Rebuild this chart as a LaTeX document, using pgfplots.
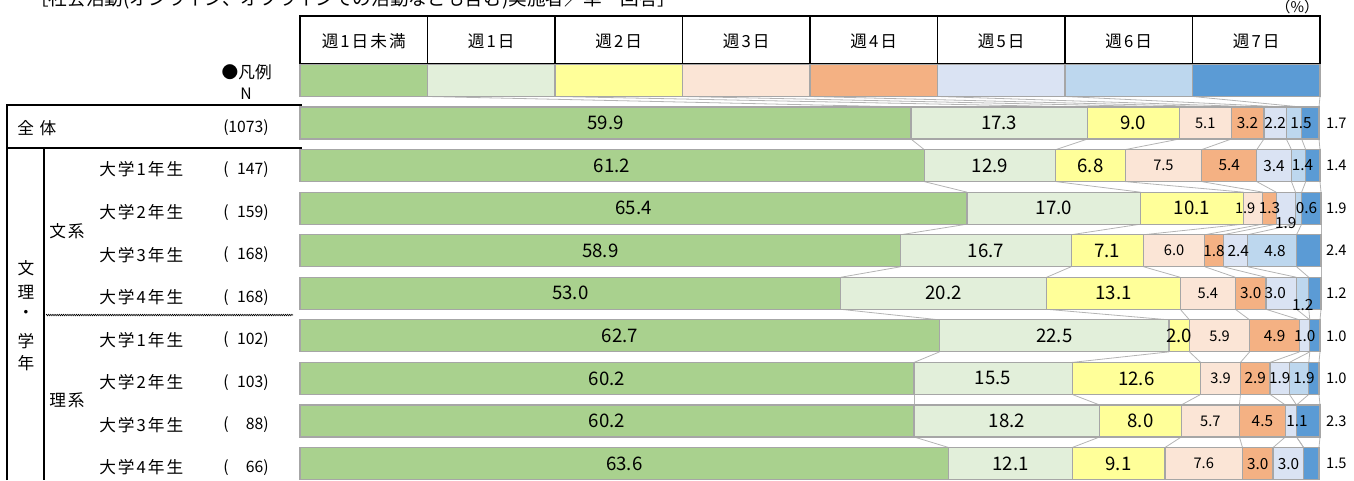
\documentclass[border=0pt]{standalone}
\usepackage{fontspec}
\setmainfont{Noto Sans CJK JP}
\newfontfamily\jpw[LetterSpace=12]{Noto Sans CJK JP}
\usepackage{pgfplots}
\usepackage{pgfplotstable}
\pgfplotsset{compat=1.18}
\usetikzlibrary{decorations.pathmorphing}

\definecolor{colA}{HTML}{A9D18E}
\definecolor{colB}{HTML}{E2EFDA}
\definecolor{colC}{HTML}{FFFF99}
\definecolor{colD}{HTML}{FBE5D6}
\definecolor{colE}{HTML}{F4B183}
\definecolor{colF}{HTML}{DAE3F3}
\definecolor{colG}{HTML}{BDD7EE}
\definecolor{colH}{HTML}{5B9BD5}
\definecolor{bord}{HTML}{A6A6A6}
\definecolor{conn}{HTML}{B4B4B4}

\newcommand\bigf{\fontsize{14}{14}\selectfont}
\newcommand\medf{\fontsize{11.5}{12}\selectfont}
\newcommand\smf{\fontsize{11}{12}\selectfont}
\newcommand\lab{\jpw\fontsize{12.5}{13}\selectfont}
\newcommand\nf{\fontsize{11.8}{12}\selectfont}
\newcommand\nn[1]{(\makebox[2.2em][r]{#1})}

% r = row (-1 = legend row), a..h = shares (%), dx/dy = label offsets (px)
\pgfplotstableread{
r  a    b    c    d   e   f   g   h   dxd dxf dyf dxg dyg
-1 12.5 12.5 12.5 12.5 12.5 12.5 12.5 12.5 0 0 0 0 0
0  59.9 17.3 9.0  5.1 3.2 2.2 1.5 1.7 0 0 0 7 0
1  61.2 12.9 6.8  7.5 5.4 3.4 1.4 1.4 0 0 0 4 0
2  65.4 17.0 10.1 1.9 1.3 1.9 0.6 1.9 -8 0 15 8 0
3  58.9 16.7 7.1  6.0 1.8 2.4 4.8 2.4 0 3 0 3 0
4  53.0 20.2 13.1 5.4 3.0 3.0 1.2 1.2 0 -6 0 0 12
5  62.7 22.5 2.0  5.9 4.9 1.0 0   1.0 0 0 0 0 0
6  60.2 15.5 12.6 3.9 2.9 1.9 1.9 1.0 0 0 0 5 0
7  60.2 18.2 8.0  5.7 4.5 1.1 0   2.3 0 6 0 0 0
8  63.6 12.1 9.1  7.6 3.0 3.0 0   1.5 0 0 0 0 0
}\T

\pgfplotstablecreatecol[create col/expr={\thisrow{a}}]{k1}\T
\pgfplotstablecreatecol[create col/expr={\thisrow{k1}+\thisrow{b}}]{k2}\T
\pgfplotstablecreatecol[create col/expr={\thisrow{k2}+\thisrow{c}}]{k3}\T
\pgfplotstablecreatecol[create col/expr={\thisrow{k3}+\thisrow{d}}]{k4}\T
\pgfplotstablecreatecol[create col/expr={\thisrow{k4}+\thisrow{e}}]{k5}\T
\pgfplotstablecreatecol[create col/expr={\thisrow{k5}+\thisrow{f}}]{k6}\T
\pgfplotstablecreatecol[create col/expr={\thisrow{k6}+\thisrow{g}}]{k7}\T
\pgfplotstablecreatecol[create col/expr={\thisrow{k7}+\thisrow{h}}]{k8}\T
\pgfplotstablecreatecol[create col/expr={\prevrow{k1}-\thisrow{k1}}]{u1}\T
\pgfplotstablecreatecol[create col/expr={\prevrow{k2}-\thisrow{k2}}]{u2}\T
\pgfplotstablecreatecol[create col/expr={\prevrow{k3}-\thisrow{k3}}]{u3}\T
\pgfplotstablecreatecol[create col/expr={\prevrow{k4}-\thisrow{k4}}]{u4}\T
\pgfplotstablecreatecol[create col/expr={\prevrow{k5}-\thisrow{k5}}]{u5}\T
\pgfplotstablecreatecol[create col/expr={\prevrow{k6}-\thisrow{k6}}]{u6}\T
\pgfplotstablecreatecol[create col/expr={\prevrow{k7}-\thisrow{k7}}]{u7}\T
\pgfplotstablecreatecol[create col/expr={\prevrow{k8}-\thisrow{k8}}]{u8}\T

\pgfplotsset{
  base/.style={at={(225pt,-44.4pt)}, anchor=north west, scale only axis,
    width=765pt, height=319.2pt, xmin=0, xmax=100, ymin=-1.5, ymax=8.5,
    y dir=reverse, hide axis, clip=false, enlargelimits=false},
  labp/.style={draw=none, mark=none, nodes near coords, point meta=explicit symbolic,
    every node near coord/.style={anchor=center, inner sep=0pt, font=#1, text=black},
    skip coords between index={0}{1}},
  seg/.style={fill=#1, draw=bord, line width=0.9pt},
}

\begin{document}
\begin{tikzpicture}
\path[use as bounding box] (0,0) rectangle (1015.5pt,-360pt);
\clip (0,0) rectangle (1015.5pt,-360pt);
\begin{scope}[x=0.75pt,y=-0.75pt]
  % title (cut at the top, as in the reference)
  \node[anchor=base west, inner sep=0pt, font=\fontsize{14}{14}\selectfont] at (30,5.5)
    {［社会活動(オンライン、オフラインでの活動なども含む)実施者／単一回答］};
  \node[anchor=east, inner sep=0pt, font=\fontsize{11}{11}\selectfont] at (1319,7) {（\%）};
  % header
  \draw[line width=1.2pt] (300,15.7) rectangle (1320,64);
  \foreach \i in {1,...,7} \draw[line width=1.2pt] ({300+127.5*\i},15.7) -- ({300+127.5*\i},64);
  \foreach \t [count=\i from 0] in {週1日未満,週1日,週2日,週3日,週4日,週5日,週6日,週7日}
    \node[font=\lab, inner sep=0pt] at ({300+127.5*(\i+0.5)},41) {\t};
  % legend captions
  \node[anchor=east, inner sep=0pt, font=\fontsize{12.5}{13}\selectfont] at (272,72) {●凡例};
  \node[inner sep=0pt, font=\nf] at (246,94) {N};
  % left table
  \draw[line width=1.4pt] (7,480) -- (7,105) -- (302,105);
  \draw[line width=1.4pt] (7,148) -- (302,148);
  \draw[line width=1.4pt] (44,148) -- (44,480);
  \draw[line width=0.45pt, decorate, decoration={zigzag, amplitude=0.55pt, segment length=1.6pt}] (46,315) -- (293,315);
  \node[anchor=west, inner sep=0pt, font=\lab] at (17,128) {全 体};
  \node[anchor=east, inner sep=0pt, font=\nf] at (269,128) {\nn{1073}};
  \foreach \g/\n [count=\i] in {1/147,2/159,3/168,4/168,1/102,2/103,3/88,4/66} {
    \node[anchor=west, inner sep=0pt, font=\lab] at (99,{123+42.56*\i+4}) {大学\g 年生};
    \node[anchor=east, inner sep=0pt, font=\nf] at (269,{123+42.56*\i+4}) {\nn{\n}};
  }
  \node[anchor=west, inner sep=0pt, font=\lab] at (49,231) {文系};
  \node[anchor=west, inner sep=0pt, font=\lab] at (49,400) {理系};
  \foreach \c/\yy in {文/268,理/292,・/314,学/341,年/363}
    \node[inner sep=0pt, font=\fontsize{12.5}{13}\selectfont] at (26,\yy) {\c};
\end{scope}

% series lines between the bars
\begin{axis}[base]
\pgfplotsinvokeforeach{1,...,8}{
  \addplot[draw=conn, line width=0.6pt, quiver={u=\thisrow{u#1}, v=-0.248},
    skip coords between index={0}{1}] table[x=k#1, y expr=\thisrow{r}-0.376] {\T};
}
\end{axis}

% stacked bars (row -1 is the colour legend)
\begin{axis}[base, xbar stacked, bar width=24pt]
\addplot[seg=colA] table[x=a, y=r] {\T};
\addplot[seg=colB] table[x=b, y=r] {\T};
\addplot[seg=colC] table[x=c, y=r] {\T};
\addplot[seg=colD] table[x=d, y=r] {\T};
\addplot[seg=colE] table[x=e, y=r] {\T};
\addplot[seg=colF] table[x=f, y=r] {\T};
\addplot[seg=colG] table[x=g, y=r] {\T};
\addplot[seg=colH] table[x=h, y=r] {\T};
\end{axis}

% value labels
\begin{axis}[base]
\addplot[labp=\bigf] table[x expr=\thisrow{k1}-\thisrow{a}/2, y=r, meta=a] {\T};
\addplot[labp=\bigf] table[x expr=\thisrow{k2}-\thisrow{b}/2, y=r, meta=b] {\T};
\addplot[labp=\bigf] table[x expr=\thisrow{k3}-\thisrow{c}/2, y=r, meta=c] {\T};
\addplot[labp=\smf] table[x expr=\thisrow{k4}-\thisrow{d}/2+\thisrow{dxd}/10.2, y=r, meta=d] {\T};
\addplot[labp=\medf] table[x expr=\thisrow{k5}-\thisrow{e}/2, y=r, meta=e] {\T};
\addplot[labp=\medf] table[x expr=\thisrow{k6}-\thisrow{f}/2+\thisrow{dxf}/10.2, y expr=\thisrow{r}+\thisrow{dyf}/42.56, meta=f] {\T};
\addplot[labp=\medf, restrict expr to domain={\thisrow{g}}{0.05:200}] table[x expr=\thisrow{k7}-\thisrow{g}/2+\thisrow{dxg}/10.2, y expr=\thisrow{r}+\thisrow{dyg}/42.56, meta=g] {\T};
\addplot[labp=\smf] table[x expr=101.6, y=r, meta=h] {\T};
\end{axis}
\end{tikzpicture}
\end{document}
